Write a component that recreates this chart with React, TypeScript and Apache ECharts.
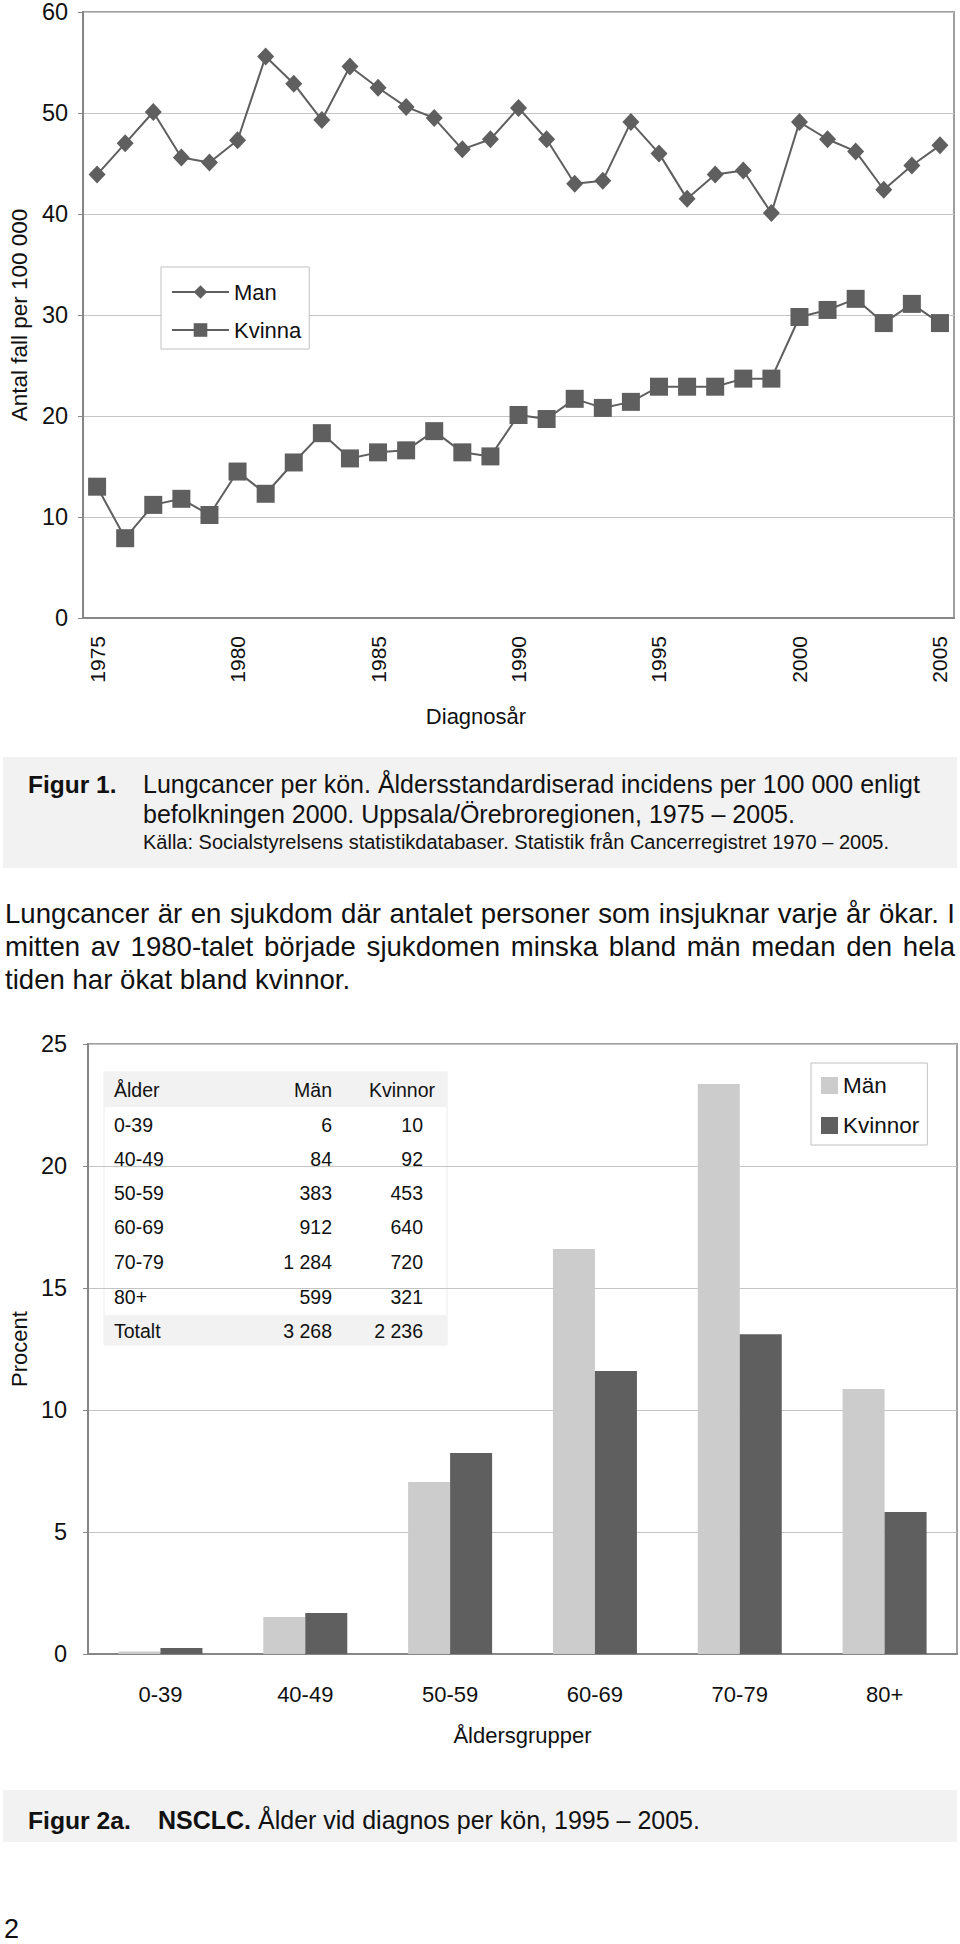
import React, { useEffect, useRef } from "react";
import * as echarts from "echarts";

const years = ["1975","1976","1977","1978","1979","1980","1981","1982","1983","1984","1985","1986","1987","1988","1989","1990","1991","1992","1993","1994","1995","1996","1997","1998","1999","2000","2001","2002","2003","2004","2005"];
const manValues = [43.9, 47.0, 50.1, 45.6, 45.1, 47.3, 55.6, 52.9, 49.3, 54.6, 52.5, 50.6, 49.5, 46.4, 47.4, 50.5, 47.4, 43.0, 43.3, 49.1, 46.0, 41.5, 43.9, 44.3, 40.1, 49.1, 47.4, 46.2, 42.4, 44.8, 46.8];
const kvinnaValues = [13.0, 7.9, 11.2, 11.8, 10.2, 14.5, 12.3, 15.4, 18.3, 15.8, 16.4, 16.6, 18.5, 16.4, 16.0, 20.1, 19.7, 21.7, 20.8, 21.4, 22.9, 22.9, 22.9, 23.7, 23.7, 29.8, 30.5, 31.6, 29.2, 31.1, 29.2];
const lineYTicks = [0, 60, 10];

const ageGroups = ["0-39", "40-49", "50-59", "60-69", "70-79", "80+"];
const manPct = [0.1, 1.52, 7.05, 16.6, 23.36, 10.86];
const kvinnorPct = [0.25, 1.68, 8.24, 11.6, 13.1, 5.82];

const tableHeader = ["Ålder", "Män", "Kvinnor"];
const tableRows = [
  ["0-39", "6", "10"],
  ["40-49", "84", "92"],
  ["50-59", "383", "453"],
  ["60-69", "912", "640"],
  ["70-79", "1 284", "720"],
  ["80+", "599", "321"],
];
const tableTotal = ["Totalt", "3 268", "2 236"];

const caption1Lines = [
  "Lungcancer per kön. Åldersstandardiserad incidens per 100 000 enligt",
  "befolkningen 2000. Uppsala/Örebroregionen, 1975 – 2005.",
];
const caption1Source = "Källa: Socialstyrelsens statistikdatabaser. Statistik från Cancerregistret 1970 – 2005.";
const paragraphLines = [
  "Lungcancer är en sjukdom där antalet personer som insjuknar varje år ökar. I",
  "mitten av 1980-talet började sjukdomen minska bland män medan den hela",
  "tiden har ökat bland kvinnor.",
];

const FONT = "'Liberation Sans', Arial, Helvetica, sans-serif";
const DARK = "#5f5f5f";
const LIGHT = "#cccccc";
const AXIS = "#868686";
const GRIDC = "#c4c4c4";

function buildTable() {
  const x0 = 104, y0 = 1072, w = 343;
  const children: any[] = [];
  children.push({ type: "rect", shape: { x: x0, y: y0, width: w, height: 273 }, style: { fill: "#ffffff", stroke: "#ececec", lineWidth: 1 } });
  children.push({ type: "rect", shape: { x: x0, y: y0, width: w, height: 35 }, style: { fill: "#f2f2f2" } });
  children.push({ type: "rect", shape: { x: x0, y: 1315, width: w, height: 30 }, style: { fill: "#f2f2f2" } });
  const ts = { fontSize: 19.5, fontFamily: FONT, fill: "#111111", verticalAlign: "middle" };
  const rowY = [1125, 1159, 1193, 1227, 1262, 1297];
  children.push({ type: "text", style: { ...ts, x: 114, y: 1090, text: tableHeader[0], align: "left" } });
  children.push({ type: "text", style: { ...ts, x: 332, y: 1090, text: tableHeader[1], align: "right" } });
  children.push({ type: "text", style: { ...ts, x: 435, y: 1090, text: tableHeader[2], align: "right" } });
  tableRows.forEach((r, i) => {
    children.push({ type: "text", style: { ...ts, x: 114, y: rowY[i], text: r[0], align: "left" } });
    children.push({ type: "text", style: { ...ts, x: 332, y: rowY[i], text: r[1], align: "right" } });
    children.push({ type: "text", style: { ...ts, x: 423, y: rowY[i], text: r[2], align: "right" } });
  });
  children.push({ type: "text", style: { ...ts, x: 114, y: 1331, text: tableTotal[0], align: "left" } });
  children.push({ type: "text", style: { ...ts, x: 332, y: 1331, text: tableTotal[1], align: "right" } });
  children.push({ type: "text", style: { ...ts, x: 423, y: 1331, text: tableTotal[2], align: "right" } });
  return { type: "group", children };
}

function buildOption(): any {
  const capStyle = { fontFamily: FONT, fill: "#111111", verticalAlign: "middle", align: "left" };
  return {
    animation: false,
    backgroundColor: "#ffffff",
    textStyle: { fontFamily: FONT },
    grid: [
      { left: 77, top: 7, width: 877, height: 611, show: true, borderColor: "#a0a0a0", borderWidth: 2, backgroundColor: "transparent" },
      { left: 80, top: 1044, width: 877, height: 610, show: true, borderColor: "#a0a0a0", borderWidth: 2, backgroundColor: "transparent" },
    ],
    legend: [
      {
        data: ["Man", "Kvinna"],
        orient: "vertical",
        left: 161,
        top: 267,
        padding: [14, 8, 8, 10],
        itemGap: 16,
        itemWidth: 57,
        itemHeight: 17,
        backgroundColor: "#ffffff",
        borderColor: "#c0c0c0",
        borderWidth: 1,
        textStyle: { fontSize: 22, fontFamily: FONT, color: "#111111" },
      },
      {
        data: ["Män", "Kvinnor"],
        orient: "vertical",
        left: 811,
        top: 1063,
        padding: [11, 8, 8, 10],
        itemGap: 17,
        itemWidth: 17,
        itemHeight: 17,
        icon: "rect",
        backgroundColor: "#ffffff",
        borderColor: "#c0c0c0",
        borderWidth: 1,
        textStyle: { fontSize: 22.5, fontFamily: FONT, color: "#111111" },
      },
    ],
    xAxis: [
      {
        type: "category",
        gridIndex: 0,
        data: years,
        boundaryGap: true,
        axisLine: { lineStyle: { color: AXIS, width: 2 } },
        axisTick: { interval: 0, length: 6, lineStyle: { color: AXIS, width: 1 } },
        axisLabel: { interval: 4, rotate: 90, margin: 18, fontSize: 21, color: "#111111", fontFamily: FONT },
        splitLine: { show: false },
      },
      {
        type: "category",
        gridIndex: 1,
        data: ageGroups,
        axisLine: { lineStyle: { color: AXIS, width: 2 } },
        axisTick: { interval: 0, length: 8, lineStyle: { color: AXIS, width: 1 } },
        axisLabel: { margin: 29, fontSize: 22, color: "#111111", fontFamily: FONT },
        name: "Åldersgrupper",
        nameLocation: "middle",
        nameGap: 70,
        nameTextStyle: { fontSize: 22, color: "#111111", fontFamily: FONT },
      },
    ],
    yAxis: [
      {
        type: "value",
        gridIndex: 0,
        min: lineYTicks[0],
        max: lineYTicks[1],
        interval: lineYTicks[2],
        axisLine: { show: true, lineStyle: { color: AXIS, width: 2 } },
        axisTick: { show: true, length: 5, lineStyle: { color: AXIS } },
        axisLabel: { margin: 15, fontSize: 23.5, color: "#111111", fontFamily: FONT },
        splitLine: { lineStyle: { color: GRIDC, width: 1 } },
        name: "Antal fall per 100 000",
        nameLocation: "middle",
        nameGap: 51,
        nameTextStyle: { fontSize: 22.5, color: "#111111", fontFamily: FONT },
      },
      {
        type: "value",
        gridIndex: 1,
        min: 0,
        max: 25,
        interval: 5,
        axisLine: { show: true, lineStyle: { color: AXIS, width: 2 } },
        axisTick: { show: true, length: 5, lineStyle: { color: AXIS } },
        axisLabel: { margin: 21, fontSize: 23.5, color: "#111111", fontFamily: FONT },
        splitLine: { lineStyle: { color: GRIDC, width: 1 } },
        name: "Procent",
        nameLocation: "middle",
        nameGap: 57,
        nameTextStyle: { fontSize: 22, color: "#111111", fontFamily: FONT },
      },
    ],
    series: [
      {
        name: "Man",
        type: "line",
        xAxisIndex: 0,
        yAxisIndex: 0,
        data: manValues,
        symbol: "diamond",
        symbolSize: [17, 18],
        lineStyle: { color: DARK, width: 2 },
        itemStyle: { color: DARK },
      },
      {
        name: "Kvinna",
        type: "line",
        xAxisIndex: 0,
        yAxisIndex: 0,
        data: kvinnaValues,
        symbol: "rect",
        symbolSize: 18,
        lineStyle: { color: DARK, width: 2 },
        itemStyle: { color: DARK },
      },
      {
        name: "Män",
        type: "bar",
        xAxisIndex: 1,
        yAxisIndex: 1,
        data: manPct,
        barWidth: 42,
        barGap: "0%",
        itemStyle: { color: LIGHT },
      },
      {
        name: "Kvinnor",
        type: "bar",
        xAxisIndex: 1,
        yAxisIndex: 1,
        data: kvinnorPct,
        barWidth: 42,
        barGap: "0%",
        itemStyle: { color: DARK },
      },
    ],
    graphic: [
      { type: "text", style: { ...capStyle, x: 476, y: 716, text: "Diagnosår", fontSize: 22, align: "center" } },
      { type: "rect", shape: { x: 3, y: 757, width: 954, height: 111 }, style: { fill: "#f2f2f2" }, z: -1 },
      { type: "text", style: { ...capStyle, x: 28, y: 784, text: "Figur 1.", fontSize: 24.5, fontWeight: "bold" } },
      { type: "text", style: { ...capStyle, x: 143, y: 784, text: caption1Lines[0], fontSize: 25 } },
      { type: "text", style: { ...capStyle, x: 143, y: 814, text: caption1Lines[1], fontSize: 25 } },
      { type: "text", style: { ...capStyle, x: 143, y: 842, text: caption1Source, fontSize: 20 } },
      buildTable(),
      { type: "rect", shape: { x: 3, y: 1790, width: 954, height: 52 }, style: { fill: "#f2f2f2" }, z: -1 },
      { type: "text", style: { ...capStyle, x: 28, y: 1820, text: "Figur 2a.", fontSize: 24.7, fontWeight: "bold" } },
      {
        type: "text",
        style: {
          ...capStyle,
          x: 158,
          y: 1820,
          text: "{b|NSCLC.} Ålder vid diagnos per kön, 1995 – 2005.",
          fontSize: 25,
          rich: { b: { fontSize: 25, fontWeight: "bold", fontFamily: FONT, fill: "#111111" } },
        },
      },
      { type: "text", style: { ...capStyle, x: 4, y: 1929, text: "2", fontSize: 27 } },
    ],
  };
}

export default function App() {
  const ref = useRef<HTMLDivElement>(null);
  useEffect(() => {
    if (!ref.current) return;
    const chart = echarts.init(ref.current, null, { renderer: "svg" });
    chart.setOption(buildOption());
    return () => chart.dispose();
  }, []);
  const lineTops = [897, 930, 963];
  return (
    <div style={{ position: "absolute", left: 0, top: 0, width: 960, height: 1944, background: "#ffffff", fontFamily: FONT }}>
      <div ref={ref} style={{ position: "absolute", left: 0, top: 0, width: 960, height: 1944 }} />
      {paragraphLines.map((t, i) => (
        <div
          key={i}
          style={{
            position: "absolute",
            left: 5,
            top: lineTops[i],
            width: 950,
            fontSize: 27.6,
            lineHeight: "33px",
            color: "#111111",
            whiteSpace: "nowrap",
            textAlign: i < 2 ? "justify" : "left",
            textAlignLast: i < 2 ? "justify" : "left",
          } as any}
        >
          {t}
        </div>
      ))}
    </div>
  );
}
